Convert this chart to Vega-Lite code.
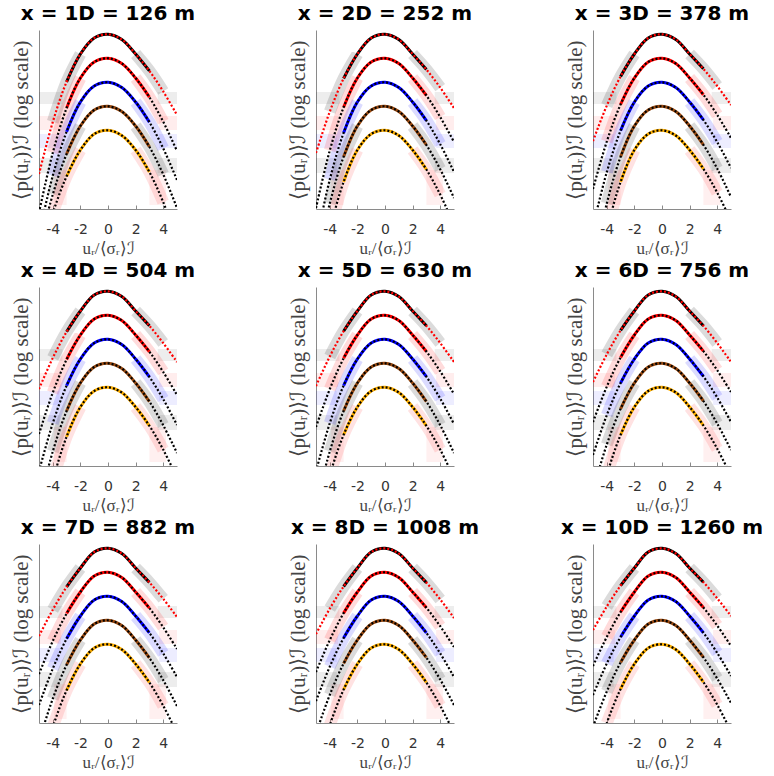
{
"$schema":"https://vega.github.io/schema/vega-lite/v6.json",
"padding":{"left":10,"top":4,"right":0,"bottom":0},
"columns":3,
"spacing":{"row":78,"column":139},
"bounds":"flush",
"config":{"view":{"stroke":null},
"axis":{"grid":false,"domainColor":"#8a8a8a","tickColor":"#8a8a8a","labelFont":"DejaVu Sans","labelFontSize":14,"labelColor":"#333333","titleFont":"Liberation Serif","titleFontWeight":"normal","titleColor":"#444444"},
"axisX":{"tickSize":-4,"labelPadding":17,"titleFontSize":17,"titlePadding":4},
"axisY":{"ticks":false,"labels":false,"titleFontSize":21,"titlePadding":8},
"title":{"font":"DejaVu Sans","fontSize":20,"fontWeight":"bold","color":"#000000","offset":6,"anchor":"middle"}},
"datasets":{
"floors":[
{"c":1,"x":-5,"x2":-3.3,"y":-6.2,"y2":-7.4},{"c":1,"x":3.6,"x2":5,"y":-6.2,"y2":-7.4},
{"c":2,"x":-5,"x2":-3.4,"y":-8.6,"y2":-10.0},{"c":2,"x":3.7,"x2":5,"y":-8.6,"y2":-10.0},
{"c":3,"x":-5,"x2":-3.5,"y":-10.4,"y2":-11.8},{"c":3,"x":3.7,"x2":5,"y":-10.4,"y2":-11.8},
{"c":4,"x":-5,"x2":-3.5,"y":-12.8,"y2":-14.3},{"c":4,"x":3.6,"x2":5,"y":-12.8,"y2":-14.3},
{"c":5,"x":-3.9,"x2":-3.0,"y":-14.0,"y2":-17.5},{"c":5,"x":3.0,"x2":4.2,"y":-14.0,"y2":-17.5}
],
"fits":[
{"p":0,"c":1,"x":-2,"y":-2.4},{"p":0,"c":1,"x":-1,"y":-0.8},{"p":0,"c":1,"x":0,"y":-0.43},{"p":0,"c":1,"x":1,"y":-0.95},{"p":0,"c":1,"x":2,"y":-2.4},
{"p":0,"c":2,"x":-2,"y":-4.8},{"p":0,"c":2,"x":-1,"y":-3.2},{"p":0,"c":2,"x":0,"y":-2.83},{"p":0,"c":2,"x":1,"y":-3.35},{"p":0,"c":2,"x":2,"y":-4.8},
{"p":0,"c":3,"x":-2,"y":-7.2},{"p":0,"c":3,"x":-1,"y":-5.6},{"p":0,"c":3,"x":0,"y":-5.23},{"p":0,"c":3,"x":1,"y":-5.75},{"p":0,"c":3,"x":2,"y":-7.2},
{"p":0,"c":4,"x":-2,"y":-9.6},{"p":0,"c":4,"x":-1,"y":-8.0},{"p":0,"c":4,"x":0,"y":-7.63},{"p":0,"c":4,"x":1,"y":-8.15},{"p":0,"c":4,"x":2,"y":-9.6},
{"p":0,"c":5,"x":-2,"y":-12.0},{"p":0,"c":5,"x":-1,"y":-10.4},{"p":0,"c":5,"x":0,"y":-10.03},{"p":0,"c":5,"x":1,"y":-10.55},{"p":0,"c":5,"x":2,"y":-12.0},

{"p":1,"c":1,"x":-5,"y":-14.4},{"p":1,"c":1,"x":-4,"y":-9.19},{"p":1,"c":1,"x":-3,"y":-5.18},{"p":1,"c":1,"x":3,"y":-4.09},{"p":1,"c":1,"x":4,"y":-6.14},{"p":1,"c":1,"x":5,"y":-8.5},
{"p":1,"c":2,"x":-5,"y":-18.26},{"p":1,"c":2,"x":-4,"y":-12.27},{"p":1,"c":2,"x":-3,"y":-7.8},{"p":1,"c":2,"x":3,"y":-6.72},{"p":1,"c":2,"x":4,"y":-9.17},{"p":1,"c":2,"x":5,"y":-12.1},
{"p":1,"c":3,"x":-5,"y":-20.42},{"p":1,"c":3,"x":-4,"y":-14.56},{"p":1,"c":3,"x":-3,"y":-10.17},{"p":1,"c":3,"x":3,"y":-9.21},{"p":1,"c":3,"x":4,"y":-11.83},{"p":1,"c":3,"x":5,"y":-15.0},
{"p":1,"c":4,"x":-5,"y":-21.73},{"p":1,"c":4,"x":-4,"y":-16.44},{"p":1,"c":4,"x":-3,"y":-12.4},{"p":1,"c":4,"x":3,"y":-11.68},{"p":1,"c":4,"x":4,"y":-14.43},{"p":1,"c":4,"x":5,"y":-17.8},
{"p":1,"c":5,"x":-5,"y":-23.02},{"p":1,"c":5,"x":-4,"y":-18.31},{"p":1,"c":5,"x":-3,"y":-14.63},{"p":1,"c":5,"x":3,"y":-14.21},{"p":1,"c":5,"x":4,"y":-17.21},{"p":1,"c":5,"x":5,"y":-20.96},

{"p":2,"c":1,"x":-5,"y":-12.3},{"p":2,"c":1,"x":-4,"y":-8.16},{"p":2,"c":1,"x":-3,"y":-4.85},{"p":2,"c":1,"x":3,"y":-3.95},{"p":2,"c":1,"x":4,"y":-5.76},{"p":2,"c":1,"x":5,"y":-7.8},
{"p":2,"c":2,"x":-5,"y":-17.8},{"p":2,"c":2,"x":-4,"y":-12.05},{"p":2,"c":2,"x":-3,"y":-7.73},{"p":2,"c":2,"x":3,"y":-6.55},{"p":2,"c":2,"x":4,"y":-8.7},{"p":2,"c":2,"x":5,"y":-11.2},
{"p":2,"c":3,"x":-5,"y":-21.26},{"p":2,"c":3,"x":-4,"y":-14.95},{"p":2,"c":3,"x":-3,"y":-10.29},{"p":2,"c":3,"x":3,"y":-9.06},{"p":2,"c":3,"x":4,"y":-11.42},{"p":2,"c":3,"x":5,"y":-14.2},
{"p":2,"c":4,"x":-5,"y":-23.63},{"p":2,"c":4,"x":-4,"y":-17.34},{"p":2,"c":4,"x":-3,"y":-12.68},{"p":2,"c":4,"x":3,"y":-11.5},{"p":2,"c":4,"x":4,"y":-13.92},{"p":2,"c":4,"x":5,"y":-16.8},
{"p":2,"c":5,"x":-5,"y":-26.76},{"p":2,"c":5,"x":-4,"y":-20.07},{"p":2,"c":5,"x":-3,"y":-15.19},{"p":2,"c":5,"x":3,"y":-13.95},{"p":2,"c":5,"x":4,"y":-16.46},{"p":2,"c":5,"x":5,"y":-19.48},

{"p":3,"c":1,"x":-5,"y":-11.1},{"p":3,"c":1,"x":-4,"y":-7.56},{"p":3,"c":1,"x":-3,"y":-4.64},{"p":3,"c":1,"x":3,"y":-3.88},{"p":3,"c":1,"x":4,"y":-5.6},{"p":3,"c":1,"x":5,"y":-7.5},
{"p":3,"c":2,"x":-5,"y":-15.9},{"p":3,"c":2,"x":-4,"y":-11.15},{"p":3,"c":2,"x":-3,"y":-7.44},{"p":3,"c":2,"x":3,"y":-6.47},{"p":3,"c":2,"x":4,"y":-8.49},{"p":3,"c":2,"x":5,"y":-10.8},
{"p":3,"c":3,"x":-5,"y":-19.67},{"p":3,"c":3,"x":-4,"y":-14.21},{"p":3,"c":3,"x":-3,"y":-10.06},{"p":3,"c":3,"x":3,"y":-8.99},{"p":3,"c":3,"x":4,"y":-11.21},{"p":3,"c":3,"x":5,"y":-13.8},
{"p":3,"c":4,"x":-5,"y":-23.63},{"p":3,"c":4,"x":-4,"y":-17.34},{"p":3,"c":4,"x":-3,"y":-12.68},{"p":3,"c":4,"x":3,"y":-11.48},{"p":3,"c":4,"x":4,"y":-13.86},{"p":3,"c":4,"x":5,"y":-16.7},
{"p":3,"c":5,"x":-5,"y":-26.76},{"p":3,"c":5,"x":-4,"y":-20.07},{"p":3,"c":5,"x":-3,"y":-15.19},{"p":3,"c":5,"x":3,"y":-13.88},{"p":3,"c":5,"x":4,"y":-16.26},{"p":3,"c":5,"x":5,"y":-19.08},

{"p":4,"c":1,"x":-5,"y":-10.2},{"p":4,"c":1,"x":-4,"y":-7.09},{"p":4,"c":1,"x":-3,"y":-4.48},{"p":4,"c":1,"x":3,"y":-3.88},{"p":4,"c":1,"x":4,"y":-5.6},{"p":4,"c":1,"x":5,"y":-7.5},
{"p":4,"c":2,"x":-5,"y":-14.7},{"p":4,"c":2,"x":-4,"y":-10.56},{"p":4,"c":2,"x":-3,"y":-7.25},{"p":4,"c":2,"x":3,"y":-6.47},{"p":4,"c":2,"x":4,"y":-8.49},{"p":4,"c":2,"x":5,"y":-10.8},
{"p":4,"c":3,"x":-5,"y":-18.43},{"p":4,"c":3,"x":-4,"y":-13.61},{"p":4,"c":3,"x":-3,"y":-9.86},{"p":4,"c":3,"x":3,"y":-8.99},{"p":4,"c":3,"x":4,"y":-11.21},{"p":4,"c":3,"x":5,"y":-13.8},
{"p":4,"c":4,"x":-5,"y":-21.73},{"p":4,"c":4,"x":-4,"y":-16.44},{"p":4,"c":4,"x":-3,"y":-12.4},{"p":4,"c":4,"x":3,"y":-11.46},{"p":4,"c":4,"x":4,"y":-13.82},{"p":4,"c":4,"x":5,"y":-16.6},
{"p":4,"c":5,"x":-5,"y":-25.24},{"p":4,"c":5,"x":-4,"y":-19.37},{"p":4,"c":5,"x":-3,"y":-14.97},{"p":4,"c":5,"x":3,"y":-13.88},{"p":4,"c":5,"x":4,"y":-16.26},{"p":4,"c":5,"x":5,"y":-19.08},

{"p":5,"c":1,"x":-5,"y":-9.9},{"p":5,"c":1,"x":-4,"y":-6.94},{"p":5,"c":1,"x":-3,"y":-4.42},{"p":5,"c":1,"x":3,"y":-3.88},{"p":5,"c":1,"x":4,"y":-5.6},{"p":5,"c":1,"x":5,"y":-7.5},
{"p":5,"c":2,"x":-5,"y":-14.0},{"p":5,"c":2,"x":-4,"y":-10.21},{"p":5,"c":2,"x":-3,"y":-7.13},{"p":5,"c":2,"x":3,"y":-6.45},{"p":5,"c":2,"x":4,"y":-8.43},{"p":5,"c":2,"x":5,"y":-10.7},
{"p":5,"c":3,"x":-5,"y":-18.43},{"p":5,"c":3,"x":-4,"y":-13.61},{"p":5,"c":3,"x":-3,"y":-9.86},{"p":5,"c":3,"x":3,"y":-8.97},{"p":5,"c":3,"x":4,"y":-11.15},{"p":5,"c":3,"x":5,"y":-13.7},
{"p":5,"c":4,"x":-5,"y":-21.73},{"p":5,"c":4,"x":-4,"y":-16.44},{"p":5,"c":4,"x":-3,"y":-12.4},{"p":5,"c":4,"x":3,"y":-11.46},{"p":5,"c":4,"x":4,"y":-13.82},{"p":5,"c":4,"x":5,"y":-16.6},
{"p":5,"c":5,"x":-5,"y":-24.03},{"p":5,"c":5,"x":-4,"y":-18.8},{"p":5,"c":5,"x":-3,"y":-14.79},{"p":5,"c":5,"x":3,"y":-13.88},{"p":5,"c":5,"x":4,"y":-16.26},{"p":5,"c":5,"x":5,"y":-19.08},

{"p":6,"c":1,"x":-5,"y":-9.5},{"p":6,"c":1,"x":-4,"y":-6.73},{"p":6,"c":1,"x":-3,"y":-4.34},{"p":6,"c":1,"x":3,"y":-3.88},{"p":6,"c":1,"x":4,"y":-5.6},{"p":6,"c":1,"x":5,"y":-7.5},
{"p":6,"c":2,"x":-5,"y":-13.5},{"p":6,"c":2,"x":-4,"y":-9.96},{"p":6,"c":2,"x":-3,"y":-7.04},{"p":6,"c":2,"x":3,"y":-6.41},{"p":6,"c":2,"x":4,"y":-8.32},{"p":6,"c":2,"x":5,"y":-10.5},
{"p":6,"c":3,"x":-5,"y":-16.8},{"p":6,"c":3,"x":-4,"y":-12.81},{"p":6,"c":3,"x":-3,"y":-9.6},{"p":6,"c":3,"x":3,"y":-8.93},{"p":6,"c":3,"x":4,"y":-11.05},{"p":6,"c":3,"x":5,"y":-13.5},
{"p":6,"c":4,"x":-5,"y":-20.3},{"p":6,"c":4,"x":-4,"y":-15.75},{"p":6,"c":4,"x":-3,"y":-12.18},{"p":6,"c":4,"x":3,"y":-11.4},{"p":6,"c":4,"x":4,"y":-13.66},{"p":6,"c":4,"x":5,"y":-16.3},
{"p":6,"c":5,"x":-5,"y":-24.03},{"p":6,"c":5,"x":-4,"y":-18.8},{"p":6,"c":5,"x":-3,"y":-14.79},{"p":6,"c":5,"x":3,"y":-13.85},{"p":6,"c":5,"x":4,"y":-16.17},{"p":6,"c":5,"x":5,"y":-18.91},

{"p":7,"c":1,"x":-5,"y":-9.2},{"p":7,"c":1,"x":-4,"y":-6.57},{"p":7,"c":1,"x":-3,"y":-4.29},{"p":7,"c":1,"x":3,"y":-3.84},{"p":7,"c":1,"x":4,"y":-5.48},{"p":7,"c":1,"x":5,"y":-7.3},
{"p":7,"c":2,"x":-5,"y":-13.0},{"p":7,"c":2,"x":-4,"y":-9.7},{"p":7,"c":2,"x":-3,"y":-6.95},{"p":7,"c":2,"x":3,"y":-6.41},{"p":7,"c":2,"x":4,"y":-8.32},{"p":7,"c":2,"x":5,"y":-10.5},
{"p":7,"c":3,"x":-5,"y":-16.1},{"p":7,"c":3,"x":-4,"y":-12.46},{"p":7,"c":3,"x":-3,"y":-9.48},{"p":7,"c":3,"x":3,"y":-8.89},{"p":7,"c":3,"x":4,"y":-10.94},{"p":7,"c":3,"x":5,"y":-13.3},
{"p":7,"c":4,"x":-5,"y":-19.7},{"p":7,"c":4,"x":-4,"y":-15.46},{"p":7,"c":4,"x":-3,"y":-12.08},{"p":7,"c":4,"x":3,"y":-11.39},{"p":7,"c":4,"x":4,"y":-13.61},{"p":7,"c":4,"x":5,"y":-16.2},
{"p":7,"c":5,"x":-5,"y":-23.02},{"p":7,"c":5,"x":-4,"y":-18.31},{"p":7,"c":5,"x":-3,"y":-14.63},{"p":7,"c":5,"x":3,"y":-13.85},{"p":7,"c":5,"x":4,"y":-16.17},{"p":7,"c":5,"x":5,"y":-18.91},

{"p":8,"c":1,"x":-5,"y":-9.0},{"p":8,"c":1,"x":-4,"y":-6.46},{"p":8,"c":1,"x":-3,"y":-4.25},{"p":8,"c":1,"x":3,"y":-3.86},{"p":8,"c":1,"x":4,"y":-5.54},{"p":8,"c":1,"x":5,"y":-7.4},
{"p":8,"c":2,"x":-5,"y":-12.8},{"p":8,"c":2,"x":-4,"y":-9.6},{"p":8,"c":2,"x":-3,"y":-6.91},{"p":8,"c":2,"x":3,"y":-6.37},{"p":8,"c":2,"x":4,"y":-8.22},{"p":8,"c":2,"x":5,"y":-10.3},
{"p":8,"c":3,"x":-5,"y":-15.7},{"p":8,"c":3,"x":-4,"y":-12.26},{"p":8,"c":3,"x":-3,"y":-9.4},{"p":8,"c":3,"x":3,"y":-8.89},{"p":8,"c":3,"x":4,"y":-10.94},{"p":8,"c":3,"x":5,"y":-13.3},
{"p":8,"c":4,"x":-5,"y":-18.93},{"p":8,"c":4,"x":-4,"y":-15.08},{"p":8,"c":4,"x":-3,"y":-11.95},{"p":8,"c":4,"x":3,"y":-11.37},{"p":8,"c":4,"x":4,"y":-13.55},{"p":8,"c":4,"x":5,"y":-16.1},
{"p":8,"c":5,"x":-5,"y":-22.58},{"p":8,"c":5,"x":-4,"y":-18.1},{"p":8,"c":5,"x":-3,"y":-14.56},{"p":8,"c":5,"x":3,"y":-13.85},{"p":8,"c":5,"x":4,"y":-16.17},{"p":8,"c":5,"x":5,"y":-18.91},

{"p":9,"c":1,"x":-5,"y":-8.6},{"p":9,"c":1,"x":-4,"y":-6.25},{"p":9,"c":1,"x":-3,"y":-4.16},{"p":9,"c":1,"x":3,"y":-3.82},{"p":9,"c":1,"x":4,"y":-5.43},{"p":9,"c":1,"x":5,"y":-7.2},
{"p":9,"c":2,"x":-5,"y":-12.2},{"p":9,"c":2,"x":-4,"y":-9.29},{"p":9,"c":2,"x":-3,"y":-6.8},{"p":9,"c":2,"x":3,"y":-6.35},{"p":9,"c":2,"x":4,"y":-8.16},{"p":9,"c":2,"x":5,"y":-10.2},
{"p":9,"c":3,"x":-5,"y":-15.1},{"p":9,"c":3,"x":-4,"y":-11.95},{"p":9,"c":3,"x":-3,"y":-9.3},{"p":9,"c":3,"x":3,"y":-8.87},{"p":9,"c":3,"x":4,"y":-10.89},{"p":9,"c":3,"x":5,"y":-13.2},
{"p":9,"c":4,"x":-5,"y":-18.28},{"p":9,"c":4,"x":-4,"y":-14.75},{"p":9,"c":4,"x":-3,"y":-11.84},{"p":9,"c":4,"x":3,"y":-11.33},{"p":9,"c":4,"x":4,"y":-13.45},{"p":9,"c":4,"x":5,"y":-15.9},
{"p":9,"c":5,"x":-5,"y":-22.18},{"p":9,"c":5,"x":-4,"y":-17.9},{"p":9,"c":5,"x":-3,"y":-14.5},{"p":9,"c":5,"x":3,"y":-13.81},{"p":9,"c":5,"x":4,"y":-16.07},{"p":9,"c":5,"x":5,"y":-18.73}
]},
"concat":[
{"title":"x = 1D = 126 m","width":138,"height":179,"resolve":{"scale":{"color":"independent"}},
"encoding":{"x":{"field":"x","type":"quantitative","scale":{"domain":[-5,5],"nice":false},"axis":{"values":[-4,-2,0,2,4],"title":"uᵣ/⟨σᵣ⟩ℐ","labelExpr":"datum.value<0?'-'+abs(datum.value):''+datum.value"}},"y":{"field":"y","type":"quantitative","scale":{"domain":[-17.9,0],"nice":false},"axis":{"title":"⟨p(uᵣ)⟩ℐ (log scale)"}}},
"layer":[
{"data":{"name":"floors"},"mark":{"type":"rect","opacity":0.07},"encoding":{"x2":{"field":"x2"},"y2":{"field":"y2"},"color":{"field":"c","type":"nominal","scale":{"domain":[1,2,3,4,5],"range":["#000000","#ff0000","#0000ff","#000000","#ff3030"]},"legend":null}}},
{"data":{"name":"fits"},"transform":[{"filter":"(datum.p==0||datum.p==1)&&datum.x>=-4&&datum.x<=-2"}],"mark":{"type":"line","interpolate":"catmull-rom","strokeWidth":12,"opacity":0.14,"clip":true},"encoding":{"color":{"field":"c","type":"nominal","scale":{"domain":[1,2,3,4,5],"range":["#000000","#ff0000","#0000ff","#000000","#ff3030"]},"legend":null}}},
{"data":{"name":"fits"},"transform":[{"filter":"(datum.p==0||datum.p==1)&&datum.x>=2&&datum.x<=4"}],"mark":{"type":"line","interpolate":"catmull-rom","strokeWidth":12,"opacity":0.14,"clip":true},"encoding":{"color":{"field":"c","type":"nominal","scale":{"domain":[1,2,3,4,5],"range":["#000000","#ff0000","#0000ff","#000000","#ff3030"]},"legend":null}}},
{"data":{"name":"fits"},"transform":[{"filter":"(datum.p==0||datum.p==1)&&abs(datum.x)<=3"}],"mark":{"type":"line","interpolate":"catmull-rom","strokeWidth":3,"clip":true},"encoding":{"color":{"field":"c","type":"nominal","scale":{"domain":[1,2,3,4,5],"range":["#000000","#ff0000","#0000ff","#9a4a10","#ffb000"]},"legend":null}}},
{"data":{"name":"fits"},"transform":[{"filter":"datum.p==0||datum.p==1"}],"mark":{"type":"line","interpolate":"catmull-rom","strokeWidth":2.2,"strokeDash":[2,2],"clip":true},"encoding":{"color":{"field":"c","type":"nominal","scale":{"domain":[1,2,3,4,5],"range":["#ff0000","#000000","#000000","#000000","#000000"]},"legend":null}}}
]},
{"title":"x = 2D = 252 m","width":138,"height":179,"resolve":{"scale":{"color":"independent"}},
"encoding":{"x":{"field":"x","type":"quantitative","scale":{"domain":[-5,5],"nice":false},"axis":{"values":[-4,-2,0,2,4],"title":"uᵣ/⟨σᵣ⟩ℐ","labelExpr":"datum.value<0?'-'+abs(datum.value):''+datum.value"}},"y":{"field":"y","type":"quantitative","scale":{"domain":[-17.9,0],"nice":false},"axis":{"title":"⟨p(uᵣ)⟩ℐ (log scale)"}}},
"layer":[
{"data":{"name":"floors"},"mark":{"type":"rect","opacity":0.07},"encoding":{"x2":{"field":"x2"},"y2":{"field":"y2"},"color":{"field":"c","type":"nominal","scale":{"domain":[1,2,3,4,5],"range":["#000000","#ff0000","#0000ff","#000000","#ff3030"]},"legend":null}}},
{"data":{"name":"fits"},"transform":[{"filter":"(datum.p==0||datum.p==2)&&datum.x>=-4&&datum.x<=-2"}],"mark":{"type":"line","interpolate":"catmull-rom","strokeWidth":12,"opacity":0.14,"clip":true},"encoding":{"color":{"field":"c","type":"nominal","scale":{"domain":[1,2,3,4,5],"range":["#000000","#ff0000","#0000ff","#000000","#ff3030"]},"legend":null}}},
{"data":{"name":"fits"},"transform":[{"filter":"(datum.p==0||datum.p==2)&&datum.x>=2&&datum.x<=4"}],"mark":{"type":"line","interpolate":"catmull-rom","strokeWidth":12,"opacity":0.14,"clip":true},"encoding":{"color":{"field":"c","type":"nominal","scale":{"domain":[1,2,3,4,5],"range":["#000000","#ff0000","#0000ff","#000000","#ff3030"]},"legend":null}}},
{"data":{"name":"fits"},"transform":[{"filter":"(datum.p==0||datum.p==2)&&abs(datum.x)<=3"}],"mark":{"type":"line","interpolate":"catmull-rom","strokeWidth":3,"clip":true},"encoding":{"color":{"field":"c","type":"nominal","scale":{"domain":[1,2,3,4,5],"range":["#000000","#ff0000","#0000ff","#9a4a10","#ffb000"]},"legend":null}}},
{"data":{"name":"fits"},"transform":[{"filter":"datum.p==0||datum.p==2"}],"mark":{"type":"line","interpolate":"catmull-rom","strokeWidth":2.2,"strokeDash":[2,2],"clip":true},"encoding":{"color":{"field":"c","type":"nominal","scale":{"domain":[1,2,3,4,5],"range":["#ff0000","#000000","#000000","#000000","#000000"]},"legend":null}}}
]},
{"title":"x = 3D = 378 m","width":138,"height":179,"resolve":{"scale":{"color":"independent"}},
"encoding":{"x":{"field":"x","type":"quantitative","scale":{"domain":[-5,5],"nice":false},"axis":{"values":[-4,-2,0,2,4],"title":"uᵣ/⟨σᵣ⟩ℐ","labelExpr":"datum.value<0?'-'+abs(datum.value):''+datum.value"}},"y":{"field":"y","type":"quantitative","scale":{"domain":[-17.9,0],"nice":false},"axis":{"title":"⟨p(uᵣ)⟩ℐ (log scale)"}}},
"layer":[
{"data":{"name":"floors"},"mark":{"type":"rect","opacity":0.07},"encoding":{"x2":{"field":"x2"},"y2":{"field":"y2"},"color":{"field":"c","type":"nominal","scale":{"domain":[1,2,3,4,5],"range":["#000000","#ff0000","#0000ff","#000000","#ff3030"]},"legend":null}}},
{"data":{"name":"fits"},"transform":[{"filter":"(datum.p==0||datum.p==3)&&datum.x>=-4&&datum.x<=-2"}],"mark":{"type":"line","interpolate":"catmull-rom","strokeWidth":12,"opacity":0.14,"clip":true},"encoding":{"color":{"field":"c","type":"nominal","scale":{"domain":[1,2,3,4,5],"range":["#000000","#ff0000","#0000ff","#000000","#ff3030"]},"legend":null}}},
{"data":{"name":"fits"},"transform":[{"filter":"(datum.p==0||datum.p==3)&&datum.x>=2&&datum.x<=4"}],"mark":{"type":"line","interpolate":"catmull-rom","strokeWidth":12,"opacity":0.14,"clip":true},"encoding":{"color":{"field":"c","type":"nominal","scale":{"domain":[1,2,3,4,5],"range":["#000000","#ff0000","#0000ff","#000000","#ff3030"]},"legend":null}}},
{"data":{"name":"fits"},"transform":[{"filter":"(datum.p==0||datum.p==3)&&abs(datum.x)<=3"}],"mark":{"type":"line","interpolate":"catmull-rom","strokeWidth":3,"clip":true},"encoding":{"color":{"field":"c","type":"nominal","scale":{"domain":[1,2,3,4,5],"range":["#000000","#ff0000","#0000ff","#9a4a10","#ffb000"]},"legend":null}}},
{"data":{"name":"fits"},"transform":[{"filter":"datum.p==0||datum.p==3"}],"mark":{"type":"line","interpolate":"catmull-rom","strokeWidth":2.2,"strokeDash":[2,2],"clip":true},"encoding":{"color":{"field":"c","type":"nominal","scale":{"domain":[1,2,3,4,5],"range":["#ff0000","#000000","#000000","#000000","#000000"]},"legend":null}}}
]},
{"title":"x = 4D = 504 m","width":138,"height":179,"resolve":{"scale":{"color":"independent"}},
"encoding":{"x":{"field":"x","type":"quantitative","scale":{"domain":[-5,5],"nice":false},"axis":{"values":[-4,-2,0,2,4],"title":"uᵣ/⟨σᵣ⟩ℐ","labelExpr":"datum.value<0?'-'+abs(datum.value):''+datum.value"}},"y":{"field":"y","type":"quantitative","scale":{"domain":[-17.9,0],"nice":false},"axis":{"title":"⟨p(uᵣ)⟩ℐ (log scale)"}}},
"layer":[
{"data":{"name":"floors"},"mark":{"type":"rect","opacity":0.07},"encoding":{"x2":{"field":"x2"},"y2":{"field":"y2"},"color":{"field":"c","type":"nominal","scale":{"domain":[1,2,3,4,5],"range":["#000000","#ff0000","#0000ff","#000000","#ff3030"]},"legend":null}}},
{"data":{"name":"fits"},"transform":[{"filter":"(datum.p==0||datum.p==4)&&datum.x>=-4&&datum.x<=-2"}],"mark":{"type":"line","interpolate":"catmull-rom","strokeWidth":12,"opacity":0.14,"clip":true},"encoding":{"color":{"field":"c","type":"nominal","scale":{"domain":[1,2,3,4,5],"range":["#000000","#ff0000","#0000ff","#000000","#ff3030"]},"legend":null}}},
{"data":{"name":"fits"},"transform":[{"filter":"(datum.p==0||datum.p==4)&&datum.x>=2&&datum.x<=4"}],"mark":{"type":"line","interpolate":"catmull-rom","strokeWidth":12,"opacity":0.14,"clip":true},"encoding":{"color":{"field":"c","type":"nominal","scale":{"domain":[1,2,3,4,5],"range":["#000000","#ff0000","#0000ff","#000000","#ff3030"]},"legend":null}}},
{"data":{"name":"fits"},"transform":[{"filter":"(datum.p==0||datum.p==4)&&abs(datum.x)<=3"}],"mark":{"type":"line","interpolate":"catmull-rom","strokeWidth":3,"clip":true},"encoding":{"color":{"field":"c","type":"nominal","scale":{"domain":[1,2,3,4,5],"range":["#000000","#ff0000","#0000ff","#9a4a10","#ffb000"]},"legend":null}}},
{"data":{"name":"fits"},"transform":[{"filter":"datum.p==0||datum.p==4"}],"mark":{"type":"line","interpolate":"catmull-rom","strokeWidth":2.2,"strokeDash":[2,2],"clip":true},"encoding":{"color":{"field":"c","type":"nominal","scale":{"domain":[1,2,3,4,5],"range":["#ff0000","#000000","#000000","#000000","#000000"]},"legend":null}}}
]},
{"title":"x = 5D = 630 m","width":138,"height":179,"resolve":{"scale":{"color":"independent"}},
"encoding":{"x":{"field":"x","type":"quantitative","scale":{"domain":[-5,5],"nice":false},"axis":{"values":[-4,-2,0,2,4],"title":"uᵣ/⟨σᵣ⟩ℐ","labelExpr":"datum.value<0?'-'+abs(datum.value):''+datum.value"}},"y":{"field":"y","type":"quantitative","scale":{"domain":[-17.9,0],"nice":false},"axis":{"title":"⟨p(uᵣ)⟩ℐ (log scale)"}}},
"layer":[
{"data":{"name":"floors"},"mark":{"type":"rect","opacity":0.07},"encoding":{"x2":{"field":"x2"},"y2":{"field":"y2"},"color":{"field":"c","type":"nominal","scale":{"domain":[1,2,3,4,5],"range":["#000000","#ff0000","#0000ff","#000000","#ff3030"]},"legend":null}}},
{"data":{"name":"fits"},"transform":[{"filter":"(datum.p==0||datum.p==5)&&datum.x>=-4&&datum.x<=-2"}],"mark":{"type":"line","interpolate":"catmull-rom","strokeWidth":12,"opacity":0.14,"clip":true},"encoding":{"color":{"field":"c","type":"nominal","scale":{"domain":[1,2,3,4,5],"range":["#000000","#ff0000","#0000ff","#000000","#ff3030"]},"legend":null}}},
{"data":{"name":"fits"},"transform":[{"filter":"(datum.p==0||datum.p==5)&&datum.x>=2&&datum.x<=4"}],"mark":{"type":"line","interpolate":"catmull-rom","strokeWidth":12,"opacity":0.14,"clip":true},"encoding":{"color":{"field":"c","type":"nominal","scale":{"domain":[1,2,3,4,5],"range":["#000000","#ff0000","#0000ff","#000000","#ff3030"]},"legend":null}}},
{"data":{"name":"fits"},"transform":[{"filter":"(datum.p==0||datum.p==5)&&abs(datum.x)<=3"}],"mark":{"type":"line","interpolate":"catmull-rom","strokeWidth":3,"clip":true},"encoding":{"color":{"field":"c","type":"nominal","scale":{"domain":[1,2,3,4,5],"range":["#000000","#ff0000","#0000ff","#9a4a10","#ffb000"]},"legend":null}}},
{"data":{"name":"fits"},"transform":[{"filter":"datum.p==0||datum.p==5"}],"mark":{"type":"line","interpolate":"catmull-rom","strokeWidth":2.2,"strokeDash":[2,2],"clip":true},"encoding":{"color":{"field":"c","type":"nominal","scale":{"domain":[1,2,3,4,5],"range":["#ff0000","#000000","#000000","#000000","#000000"]},"legend":null}}}
]},
{"title":"x = 6D = 756 m","width":138,"height":179,"resolve":{"scale":{"color":"independent"}},
"encoding":{"x":{"field":"x","type":"quantitative","scale":{"domain":[-5,5],"nice":false},"axis":{"values":[-4,-2,0,2,4],"title":"uᵣ/⟨σᵣ⟩ℐ","labelExpr":"datum.value<0?'-'+abs(datum.value):''+datum.value"}},"y":{"field":"y","type":"quantitative","scale":{"domain":[-17.9,0],"nice":false},"axis":{"title":"⟨p(uᵣ)⟩ℐ (log scale)"}}},
"layer":[
{"data":{"name":"floors"},"mark":{"type":"rect","opacity":0.07},"encoding":{"x2":{"field":"x2"},"y2":{"field":"y2"},"color":{"field":"c","type":"nominal","scale":{"domain":[1,2,3,4,5],"range":["#000000","#ff0000","#0000ff","#000000","#ff3030"]},"legend":null}}},
{"data":{"name":"fits"},"transform":[{"filter":"(datum.p==0||datum.p==6)&&datum.x>=-4&&datum.x<=-2"}],"mark":{"type":"line","interpolate":"catmull-rom","strokeWidth":12,"opacity":0.14,"clip":true},"encoding":{"color":{"field":"c","type":"nominal","scale":{"domain":[1,2,3,4,5],"range":["#000000","#ff0000","#0000ff","#000000","#ff3030"]},"legend":null}}},
{"data":{"name":"fits"},"transform":[{"filter":"(datum.p==0||datum.p==6)&&datum.x>=2&&datum.x<=4"}],"mark":{"type":"line","interpolate":"catmull-rom","strokeWidth":12,"opacity":0.14,"clip":true},"encoding":{"color":{"field":"c","type":"nominal","scale":{"domain":[1,2,3,4,5],"range":["#000000","#ff0000","#0000ff","#000000","#ff3030"]},"legend":null}}},
{"data":{"name":"fits"},"transform":[{"filter":"(datum.p==0||datum.p==6)&&abs(datum.x)<=3"}],"mark":{"type":"line","interpolate":"catmull-rom","strokeWidth":3,"clip":true},"encoding":{"color":{"field":"c","type":"nominal","scale":{"domain":[1,2,3,4,5],"range":["#000000","#ff0000","#0000ff","#9a4a10","#ffb000"]},"legend":null}}},
{"data":{"name":"fits"},"transform":[{"filter":"datum.p==0||datum.p==6"}],"mark":{"type":"line","interpolate":"catmull-rom","strokeWidth":2.2,"strokeDash":[2,2],"clip":true},"encoding":{"color":{"field":"c","type":"nominal","scale":{"domain":[1,2,3,4,5],"range":["#ff0000","#000000","#000000","#000000","#000000"]},"legend":null}}}
]},
{"title":"x = 7D = 882 m","width":138,"height":179,"resolve":{"scale":{"color":"independent"}},
"encoding":{"x":{"field":"x","type":"quantitative","scale":{"domain":[-5,5],"nice":false},"axis":{"values":[-4,-2,0,2,4],"title":"uᵣ/⟨σᵣ⟩ℐ","labelExpr":"datum.value<0?'-'+abs(datum.value):''+datum.value"}},"y":{"field":"y","type":"quantitative","scale":{"domain":[-17.9,0],"nice":false},"axis":{"title":"⟨p(uᵣ)⟩ℐ (log scale)"}}},
"layer":[
{"data":{"name":"floors"},"mark":{"type":"rect","opacity":0.07},"encoding":{"x2":{"field":"x2"},"y2":{"field":"y2"},"color":{"field":"c","type":"nominal","scale":{"domain":[1,2,3,4,5],"range":["#000000","#ff0000","#0000ff","#000000","#ff3030"]},"legend":null}}},
{"data":{"name":"fits"},"transform":[{"filter":"(datum.p==0||datum.p==7)&&datum.x>=-4&&datum.x<=-2"}],"mark":{"type":"line","interpolate":"catmull-rom","strokeWidth":12,"opacity":0.14,"clip":true},"encoding":{"color":{"field":"c","type":"nominal","scale":{"domain":[1,2,3,4,5],"range":["#000000","#ff0000","#0000ff","#000000","#ff3030"]},"legend":null}}},
{"data":{"name":"fits"},"transform":[{"filter":"(datum.p==0||datum.p==7)&&datum.x>=2&&datum.x<=4"}],"mark":{"type":"line","interpolate":"catmull-rom","strokeWidth":12,"opacity":0.14,"clip":true},"encoding":{"color":{"field":"c","type":"nominal","scale":{"domain":[1,2,3,4,5],"range":["#000000","#ff0000","#0000ff","#000000","#ff3030"]},"legend":null}}},
{"data":{"name":"fits"},"transform":[{"filter":"(datum.p==0||datum.p==7)&&abs(datum.x)<=3"}],"mark":{"type":"line","interpolate":"catmull-rom","strokeWidth":3,"clip":true},"encoding":{"color":{"field":"c","type":"nominal","scale":{"domain":[1,2,3,4,5],"range":["#000000","#ff0000","#0000ff","#9a4a10","#ffb000"]},"legend":null}}},
{"data":{"name":"fits"},"transform":[{"filter":"datum.p==0||datum.p==7"}],"mark":{"type":"line","interpolate":"catmull-rom","strokeWidth":2.2,"strokeDash":[2,2],"clip":true},"encoding":{"color":{"field":"c","type":"nominal","scale":{"domain":[1,2,3,4,5],"range":["#ff0000","#000000","#000000","#000000","#000000"]},"legend":null}}}
]},
{"title":"x = 8D = 1008 m","width":138,"height":179,"resolve":{"scale":{"color":"independent"}},
"encoding":{"x":{"field":"x","type":"quantitative","scale":{"domain":[-5,5],"nice":false},"axis":{"values":[-4,-2,0,2,4],"title":"uᵣ/⟨σᵣ⟩ℐ","labelExpr":"datum.value<0?'-'+abs(datum.value):''+datum.value"}},"y":{"field":"y","type":"quantitative","scale":{"domain":[-17.9,0],"nice":false},"axis":{"title":"⟨p(uᵣ)⟩ℐ (log scale)"}}},
"layer":[
{"data":{"name":"floors"},"mark":{"type":"rect","opacity":0.07},"encoding":{"x2":{"field":"x2"},"y2":{"field":"y2"},"color":{"field":"c","type":"nominal","scale":{"domain":[1,2,3,4,5],"range":["#000000","#ff0000","#0000ff","#000000","#ff3030"]},"legend":null}}},
{"data":{"name":"fits"},"transform":[{"filter":"(datum.p==0||datum.p==8)&&datum.x>=-4&&datum.x<=-2"}],"mark":{"type":"line","interpolate":"catmull-rom","strokeWidth":12,"opacity":0.14,"clip":true},"encoding":{"color":{"field":"c","type":"nominal","scale":{"domain":[1,2,3,4,5],"range":["#000000","#ff0000","#0000ff","#000000","#ff3030"]},"legend":null}}},
{"data":{"name":"fits"},"transform":[{"filter":"(datum.p==0||datum.p==8)&&datum.x>=2&&datum.x<=4"}],"mark":{"type":"line","interpolate":"catmull-rom","strokeWidth":12,"opacity":0.14,"clip":true},"encoding":{"color":{"field":"c","type":"nominal","scale":{"domain":[1,2,3,4,5],"range":["#000000","#ff0000","#0000ff","#000000","#ff3030"]},"legend":null}}},
{"data":{"name":"fits"},"transform":[{"filter":"(datum.p==0||datum.p==8)&&abs(datum.x)<=3"}],"mark":{"type":"line","interpolate":"catmull-rom","strokeWidth":3,"clip":true},"encoding":{"color":{"field":"c","type":"nominal","scale":{"domain":[1,2,3,4,5],"range":["#000000","#ff0000","#0000ff","#9a4a10","#ffb000"]},"legend":null}}},
{"data":{"name":"fits"},"transform":[{"filter":"datum.p==0||datum.p==8"}],"mark":{"type":"line","interpolate":"catmull-rom","strokeWidth":2.2,"strokeDash":[2,2],"clip":true},"encoding":{"color":{"field":"c","type":"nominal","scale":{"domain":[1,2,3,4,5],"range":["#ff0000","#000000","#000000","#000000","#000000"]},"legend":null}}}
]},
{"title":"x = 10D = 1260 m","width":138,"height":179,"resolve":{"scale":{"color":"independent"}},
"encoding":{"x":{"field":"x","type":"quantitative","scale":{"domain":[-5,5],"nice":false},"axis":{"values":[-4,-2,0,2,4],"title":"uᵣ/⟨σᵣ⟩ℐ","labelExpr":"datum.value<0?'-'+abs(datum.value):''+datum.value"}},"y":{"field":"y","type":"quantitative","scale":{"domain":[-17.9,0],"nice":false},"axis":{"title":"⟨p(uᵣ)⟩ℐ (log scale)"}}},
"layer":[
{"data":{"name":"floors"},"mark":{"type":"rect","opacity":0.07},"encoding":{"x2":{"field":"x2"},"y2":{"field":"y2"},"color":{"field":"c","type":"nominal","scale":{"domain":[1,2,3,4,5],"range":["#000000","#ff0000","#0000ff","#000000","#ff3030"]},"legend":null}}},
{"data":{"name":"fits"},"transform":[{"filter":"(datum.p==0||datum.p==9)&&datum.x>=-4&&datum.x<=-2"}],"mark":{"type":"line","interpolate":"catmull-rom","strokeWidth":12,"opacity":0.14,"clip":true},"encoding":{"color":{"field":"c","type":"nominal","scale":{"domain":[1,2,3,4,5],"range":["#000000","#ff0000","#0000ff","#000000","#ff3030"]},"legend":null}}},
{"data":{"name":"fits"},"transform":[{"filter":"(datum.p==0||datum.p==9)&&datum.x>=2&&datum.x<=4"}],"mark":{"type":"line","interpolate":"catmull-rom","strokeWidth":12,"opacity":0.14,"clip":true},"encoding":{"color":{"field":"c","type":"nominal","scale":{"domain":[1,2,3,4,5],"range":["#000000","#ff0000","#0000ff","#000000","#ff3030"]},"legend":null}}},
{"data":{"name":"fits"},"transform":[{"filter":"(datum.p==0||datum.p==9)&&abs(datum.x)<=3"}],"mark":{"type":"line","interpolate":"catmull-rom","strokeWidth":3,"clip":true},"encoding":{"color":{"field":"c","type":"nominal","scale":{"domain":[1,2,3,4,5],"range":["#000000","#ff0000","#0000ff","#9a4a10","#ffb000"]},"legend":null}}},
{"data":{"name":"fits"},"transform":[{"filter":"datum.p==0||datum.p==9"}],"mark":{"type":"line","interpolate":"catmull-rom","strokeWidth":2.2,"strokeDash":[2,2],"clip":true},"encoding":{"color":{"field":"c","type":"nominal","scale":{"domain":[1,2,3,4,5],"range":["#ff0000","#000000","#000000","#000000","#000000"]},"legend":null}}}
]}
]
}
